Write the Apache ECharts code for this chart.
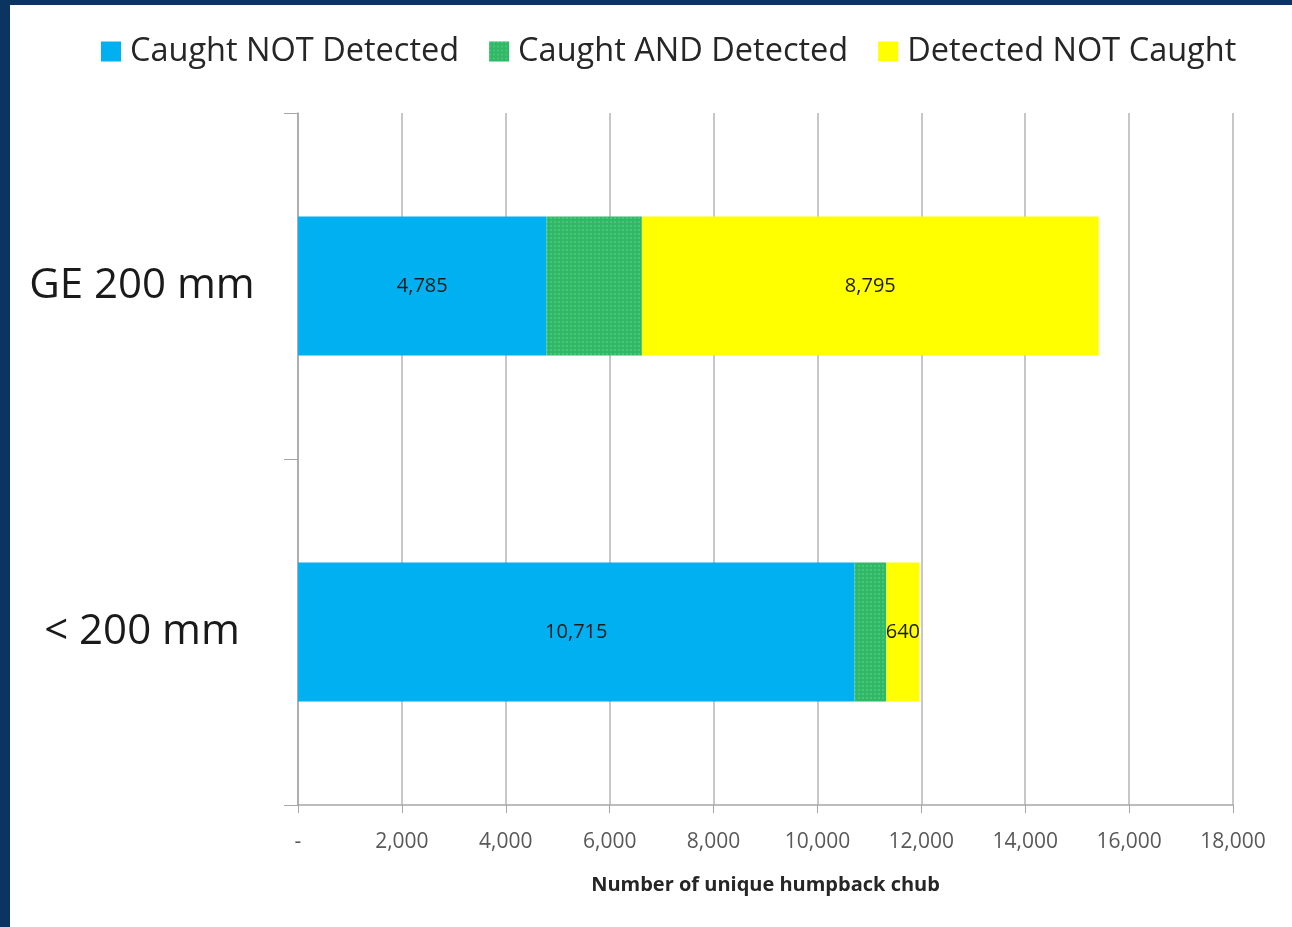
<!DOCTYPE html>
<html>
<head>
<meta charset="utf-8">
<script src="https://cdn.jsdelivr.net/npm/echarts@6/dist/echarts.min.js"></script>
<style>
  html, body { margin: 0; padding: 0; background: #fff; }
  body { width: 1282px; height: 922px; border-top: 5px solid #0B3460; border-left: 10px solid #0B3460; }
  #chart { width: 1282px; height: 922px; }
</style>
</head>
<body>
<div id="chart"></div>
<script>
// categories, top to bottom
const categories = ['GE 200 mm', '< 200 mm']
const caughtNotDetected = [4785, 10715]
const caughtAndDetected = [1835, 610]
const detectedNotCaught = [8795, 640]
const xTicks = [0, 2000, 4000, 6000, 8000, 10000, 12000, 14000, 16000, 18000]

const font = 'Open Sans'
const fmt = v => v.toLocaleString('en-US')

const chart = echarts.init(document.getElementById('chart'))

const labelStyle = {
  show: true,
  position: 'inside',
  color: '#1a1a1a',
  fontFamily: font,
  fontSize: 20,
  formatter: p => fmt(p.value)
}

chart.setOption({
  animation: false,
  legend: {
    top: 25,
    left: 86,
    itemWidth: 20,
    itemHeight: 20,
    itemGap: 30,
    icon: 'rect',
    textStyle: {
      fontFamily: font,
      fontSize: 32.5,
      color: '#262626',
      padding: [0, 0, 0, 4]
    },
    data: ['Caught NOT Detected', 'Caught AND Detected', 'Detected NOT Caught']
  },
  grid: {
    left: 288,
    top: 108,
    width: 935,
    height: 692
  },
  xAxis: {
    type: 'value',
    min: 0,
    max: 18000,
    interval: 2000,
    name: 'Number of unique humpback chub',
    nameLocation: 'middle',
    nameGap: 70,
    nameTextStyle: {
      fontFamily: font,
      fontSize: 20,
      fontWeight: 'bold',
      color: '#262626'
    },
    axisLine: { show: true, lineStyle: { color: '#a6a6a6', width: 1.5 } },
    axisTick: { show: true, length: 8, lineStyle: { color: '#a6a6a6' } },
    splitLine: { show: true, lineStyle: { color: '#b4b4b4', width: 1.5 } },
    axisLabel: {
      margin: 27,
      fontFamily: font,
      fontSize: 21,
      color: '#595959',
      formatter: v => (xTicks.indexOf(v) === 0 ? '-' : fmt(v))
    }
  },
  yAxis: {
    type: 'category',
    inverse: true,
    data: categories,
    axisLine: { show: true, lineStyle: { color: '#a6a6a6', width: 1.5 } },
    axisTick: { show: true, length: 14, lineStyle: { color: '#a6a6a6' } },
    axisLabel: {
      align: 'center',
      margin: 156,
      padding: [8, 0, 0, 0],
      fontFamily: font,
      fontSize: 42,
      color: '#1a1a1a'
    }
  },
  series: [
    {
      name: 'Caught NOT Detected',
      type: 'bar',
      stack: 'total',
      barWidth: 139,
      data: caughtNotDetected,
      itemStyle: { color: '#00B0F0' },
      label: labelStyle
    },
    {
      name: 'Caught AND Detected',
      type: 'bar',
      stack: 'total',
      data: caughtAndDetected,
      itemStyle: {
        color: '#2FB866',
        decal: {
          symbol: 'circle',
          symbolSize: 0.7,
          dashArrayX: [2, 2],
          dashArrayY: [2, 2],
          color: 'rgba(140, 230, 170, 0.8)'
        }
      }
    },
    {
      name: 'Detected NOT Caught',
      type: 'bar',
      stack: 'total',
      data: detectedNotCaught,
      itemStyle: { color: '#FFFF00' },
      label: labelStyle
    }
  ]
})
</script>
</body>
</html>
